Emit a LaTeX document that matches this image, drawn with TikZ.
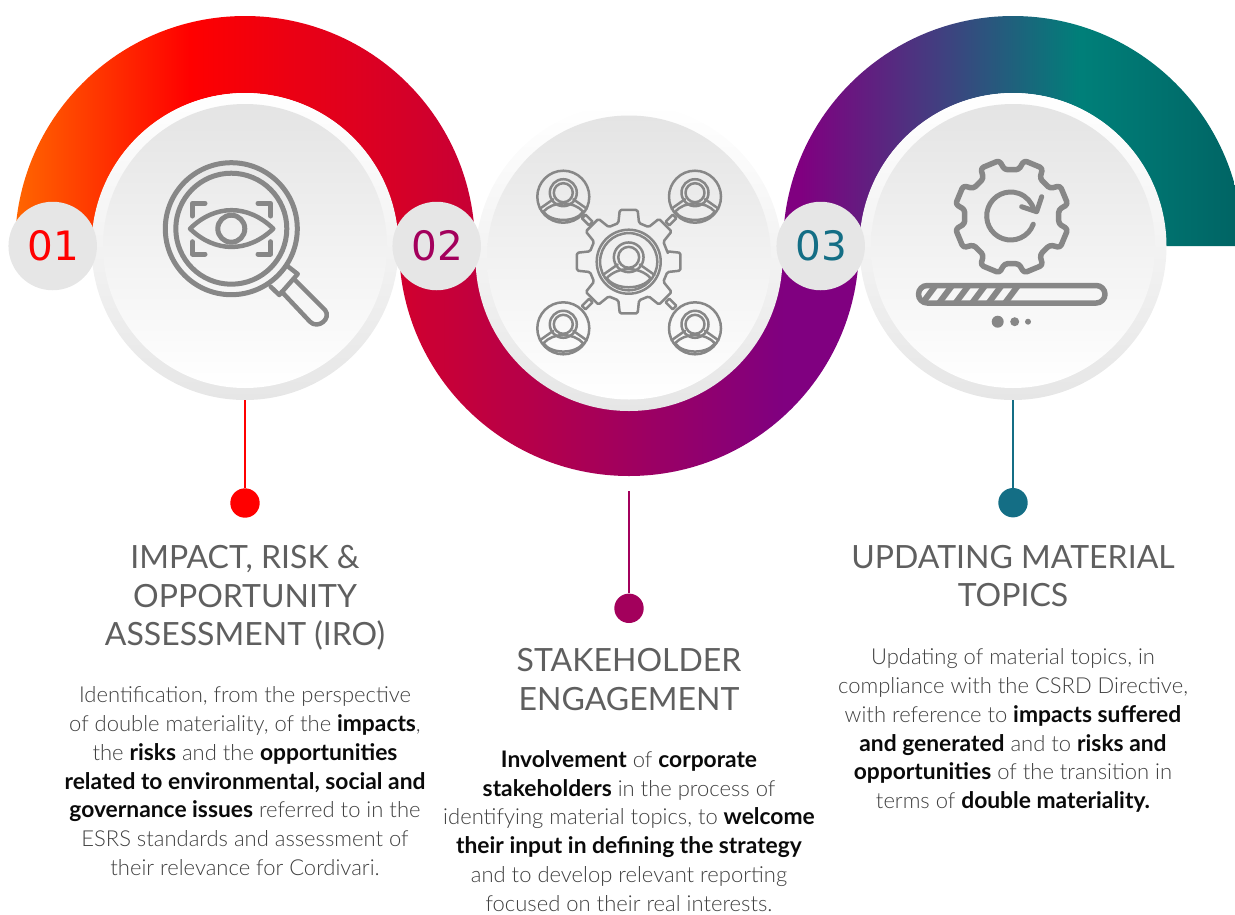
\documentclass[tikz,border=0pt]{standalone}
\usepackage{fontspec}
\setmainfont{Lato}[UprightFont=* Light,BoldFont=* Bold]
\newfontfamily\titlefont{Lato}
\newfontfamily\numfont{DejaVu Sans}
\usetikzlibrary{calc}
\definecolor{iconc}{HTML}{878787}
\definecolor{titlec}{HTML}{5F5F5F}
\definecolor{bodyc}{HTML}{404040}
\definecolor{boldc}{HTML}{0A0A0A}
\definecolor{numc}{HTML}{E6E6E6}
\definecolor{ringc}{HTML}{E6E6E6}
\definecolor{innerc}{HTML}{E4E4E4}
\definecolor{col1}{HTML}{FF0000}
\definecolor{col2}{HTML}{A3005C}
\definecolor{col3}{HTML}{146E85}
\pgfdeclarehorizontalshading{bandone}{100bp}{rgb(0bp)=(1,0.4,0);rgb(25bp)=(1,0.4,0);rgb(44bp)=(1,0,0);rgb(75bp)=(0.78,0,0.21);rgb(100bp)=(0.78,0,0.21)}
\pgfdeclarehorizontalshading{bandtwo}{100bp}{rgb(0bp)=(0.82,0,0.18);rgb(25bp)=(0.82,0,0.18);rgb(66.6bp)=(0.5,0,0.5);rgb(100bp)=(0.5,0,0.5)}
\pgfdeclarehorizontalshading{bandthree}{100bp}{rgb(0bp)=(0.5,0,0.5);rgb(27bp)=(0.5,0,0.5);rgb(43.2bp)=(0.235,0.267,0.5);rgb(57.3bp)=(0,0.5,0.475);rgb(75bp)=(0,0.39,0.39);rgb(100bp)=(0,0.39,0.39)}
\tikzset{
 outercirc/.style={circle,minimum size=307pt,inner sep=0,top color=white,bottom color=ringc},
 innercirc/.style={circle,minimum size=284pt,inner sep=0,top color=innerc,bottom color=white},
 numcirc/.style={circle,minimum size=88.5pt,inner sep=0,fill=numc,font=\numfont\fontsize{40.5}{41}\selectfont},
 dotn/.style={circle,minimum size=29.4pt,inner sep=0,fill=#1},
 lead/.style={draw=#1,line width=1.5pt},
 titlet/.style={anchor=north,inner sep=0,align=center,text=titlec,font=\titlefont\fontsize{32}{38.4}\selectfont},
 bodyt/.style={anchor=north,inner sep=0,align=center,text=bodyc,font=\fontsize{22}{28.8}\selectfont},
 ic/.style={draw=iconc,line width=#1,line join=round,line cap=round},
 ic/.default=2.5pt
}
\newcommand{\fa}{\rule{0pt}{30pt}}
\newcommand{\fb}{\rule{0pt}{20pt}}
\newcommand{\bt}[1]{{\fontsize{22.8}{28.8}\selectfont\textcolor{boldc}{\textbf{#1}}}}
\newcommand{\personicon}[2]{%
 \begin{scope}[shift={(#1)},scale=#2]
  \draw[ic] (0,0) circle[radius=26];
  \draw[ic] (0,-4) circle[radius=13.5];
  \draw[ic] (0,-4) circle[radius=9.5];
  \draw[ic] (-20,15) .. controls (-10,4) and (10,4) .. (20,15) .. controls (12,26) and (-12,26) .. (-20,15);
  \draw[ic] (-23.5,12) -- (-10,2.5);
  \draw[ic] (23.5,12) -- (10,2.5);
 \end{scope}}
\begin{document}
\begin{tikzpicture}[x=1pt,y=-1pt]
\useasboundingbox (0,0) rectangle (1235,914);
% bands
\shade[shading=bandone] (15,246) arc[start angle=180,end angle=0,radius=230pt] -- (398,246) arc[start angle=0,end angle=180,radius=153pt] -- cycle;
\shade[shading=bandtwo] (399,246) arc[start angle=180,end angle=360,radius=230pt] -- (782,246) arc[start angle=0,end angle=-180,radius=153pt] -- cycle;
\begin{scope}
\clip (783,0) rectangle (1235,246);
\shade[shading=bandthree] (783,246) arc[start angle=180,end angle=0,radius=230pt] -- (1166,246) arc[start angle=0,end angle=180,radius=153pt] -- cycle;
\end{scope}
% discs
\node[outercirc] (o1) at (245,246.5) {};
\node[innercirc] (i1) at (245,246) {};
\node[outercirc] (o2) at (629,257.5) {};
\node[innercirc] (i2) at (629,257.5) {};
\node[outercirc] (o3) at (1013,246.5) {};
\node[innercirc] (i3) at (1013,246) {};
\node[numcirc,text=col1] (n1) at (52.7,246) {\kern2pt 01};
\node[numcirc,text=col2] (n2) at (436.7,246) {\kern2pt 02};
\node[numcirc,text=col3] (n3) at (820.7,246) {\kern2pt 03};
% leaders
\node[dotn=col1] (d1) at (245,503) {};
\node[dotn=col2] (d2) at (629,608.3) {};
\node[dotn=col3] (d3) at (1013,502.7) {};
\coordinate (s2) at (629,491);
\draw[lead=col1] (o1.south) -- (d1);
\draw[lead=col2] (s2) -- (d2);
\draw[lead=col3] (o3.south) -- (d3);
% magnifier icon
\draw[ic=5pt] (231.3,228.7) circle[radius=66];
\draw[ic=5pt] (231.3,228.7) circle[radius=55.5];
\draw[ic=4.5pt] (190,228.7) .. controls (215,204) and (248,204) .. (273.3,228.7) .. controls (248,253) and (215,253) .. cycle;
\draw[ic=5pt] (231.3,228.7) circle[radius=13.5];
\draw[ic=5pt] (205,203.3) -- (192.3,203.3) -- (192.3,216);
\draw[ic=5pt] (258,203.3) -- (270.7,203.3) -- (270.7,216);
\draw[ic=5pt] (205,254) -- (192.3,254) -- (192.3,241.7);
\draw[ic=5pt] (258,254) -- (270.7,254) -- (270.7,241.7);
\draw[ic=4.5pt] (288.3,266.7) -- (297.7,274) -- (279.3,295) -- (270.7,286.7);
\draw[ic=4.5pt] (295,280) -- (325,310) .. controls (332,318) and (318,330) .. (310,321.7) -- (281.7,291.7);
% stakeholder icon
\personicon{563.3,196.7}{1}
\personicon{695,196.7}{1}
\personicon{563.3,328.3}{1}
\personicon{695,328.3}{1}
\personicon{628.7,261.7}{1.1}
\draw[ic] (628.7,261.7) circle[radius=32];
\draw[ic,rounded corners=1.5pt] (628.7,261.7) ++(-13:40)
 \foreach \a in {0,45,...,315}{ -- ($(628.7,261.7)+(\a-15:40)$) -- ($(628.7,261.7)+(\a-9.8:52.5)$) -- ($(628.7,261.7)+(\a+9.8:52.5)$) -- ($(628.7,261.7)+(\a+15:40)$) } -- cycle;
\draw[ic,shift={(587.3,220)},rotate=-45] (-5,-2.5) rectangle (5,2.5);
\draw[ic,shift={(671,304)},rotate=-45] (-5,-2.5) rectangle (5,2.5);
\draw[ic,shift={(671,220)},rotate=45] (-5,-2.5) rectangle (5,2.5);
\draw[ic,shift={(587.3,304)},rotate=45] (-5,-2.5) rectangle (5,2.5);
% update icon
\draw[ic=5.5pt,rounded corners=3pt]
 \foreach \a [count=\i] in {22.5,67.5,...,337.5}{ \ifnum\i=1 ($(1011.7,216.7)+(\a-14:47.5)$) \else -- ($(1011.7,216.7)+(\a-14:47.5)$) \fi -- ($(1011.7,216.7)+(\a-10:57.5)$) -- ($(1011.7,216.7)+(\a+10:57.5)$) -- ($(1011.7,216.7)+(\a+14:47.5)$) } -- cycle;
\draw[ic=5pt] ([shift={(-20:24pt)}]1010.7,216) arc[start angle=-20,end angle=-345,radius=24pt];
\draw[ic=5pt] (1041.7,196.7) -- (1036.7,211.7) -- (1021.7,206.7);
\begin{scope}
\clip[rounded corners=8.75pt] (918.5,285.5) rectangle (1105,303);
\foreach \x in {906,922.5,939,955.5,972,988.5,1005}
 \draw[draw=iconc,line width=6pt] (\x,303) -- ++(13.5,-18);
\end{scope}
\draw[ic=5.5pt,rounded corners=8.75pt] (918.5,285.5) rectangle (1105,303);
\fill[iconc] (997.7,321.7) circle[radius=6];
\fill[iconc] (1014.7,321.7) circle[radius=4.5];
\fill[iconc] (1028,321.7) circle[radius=3];
% text
\node[titlet] (t1) at (245,538.7) {\fa IMPACT, RISK \&\\OPPORTUNITY\\ASSESSMENT (IRO)};
\node[bodyt] (b1) at (245,682.5) {\fb Identification, from the perspective\\of double materiality, of the \bt{impacts},\\the \bt{risks} and the \bt{opportunities}\\\bt{related to environmental, social and}\\\bt{governance issues} referred to in the\\ESRS standards and assessment of\\their relevance for Cordivari.};
\node[titlet] (t2) at (629,641.5) {\fa STAKEHOLDER\\ENGAGEMENT};
\node[bodyt] (b2) at (629,747) {\fb\bt{Involvement} of \bt{corporate}\\\bt{stakeholders} in the process of\\identifying material topics, to \bt{welcome}\\\bt{their input in defining the strategy}\\and to develop relevant reporting\\focused on their real interests.};
\node[titlet] (t3) at (1013,538) {\fa UPDATING MATERIAL\\TOPICS};
\node[bodyt] (b3) at (1013,644.5) {\fb Updating of material topics, in\\compliance with the CSRD Directive,\\with reference to \bt{impacts suffered}\\\bt{and generated} and to \bt{risks and}\\\bt{opportunities} of the transition in\\terms of \bt{double materiality.}};
\end{tikzpicture}
\end{document}
